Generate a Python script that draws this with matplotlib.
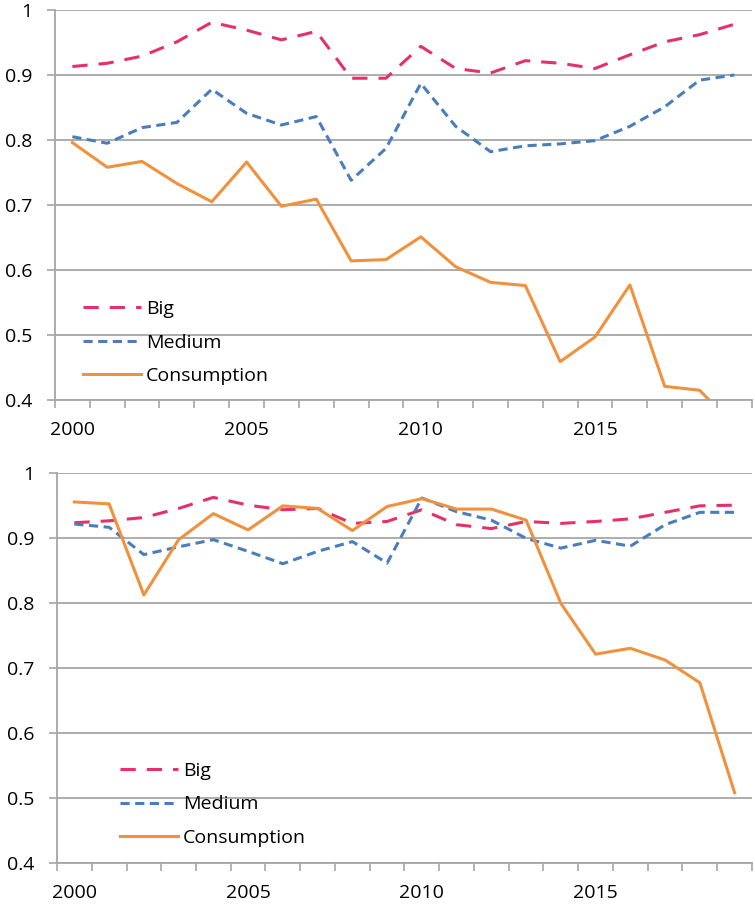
import matplotlib
matplotlib.use("Agg")
import matplotlib.pyplot as plt
from matplotlib.ticker import FixedLocator, FixedFormatter

# years on the category axis
years = list(range(2000, 2020))
year_labels = ["2000", "2005", "2010", "2015"]
y_ticks = [0.4, 0.5, 0.6, 0.7, 0.8, 0.9, 1.0]
y_labels = ["0.4", "0.5", "0.6", "0.7", "0.8", "0.9", "1"]

# top panel
big_top = [0.913, 0.918, 0.929, 0.951, 0.981, 0.969, 0.954, 0.967, 0.895, 0.895,
           0.944, 0.910, 0.903, 0.922, 0.918, 0.910, 0.931, 0.951, 0.962, 0.978]
medium_top = [0.805, 0.795, 0.819, 0.827, 0.878, 0.841, 0.823, 0.836, 0.738, 0.787,
              0.887, 0.821, 0.782, 0.791, 0.794, 0.799, 0.821, 0.851, 0.892, 0.900]
cons_top = [0.796, 0.758, 0.767, 0.733, 0.705, 0.766, 0.698, 0.709, 0.614, 0.616,
            0.651, 0.605, 0.581, 0.576, 0.459, 0.497, 0.577, 0.421, 0.415, 0.36]

# bottom panel
big_bot = [0.923, 0.926, 0.931, 0.945, 0.962, 0.950, 0.943, 0.945, 0.922, 0.925,
           0.943, 0.920, 0.914, 0.925, 0.922, 0.925, 0.929, 0.939, 0.949, 0.950]
medium_bot = [0.921, 0.916, 0.874, 0.886, 0.897, 0.879, 0.860, 0.879, 0.894, 0.861,
              0.961, 0.940, 0.927, 0.899, 0.884, 0.896, 0.887, 0.920, 0.939, 0.939]
cons_bot = [0.955, 0.952, 0.812, 0.897, 0.937, 0.912, 0.949, 0.945, 0.911, 0.948,
            0.960, 0.944, 0.944, 0.927, 0.799, 0.721, 0.730, 0.712, 0.677, 0.508]

series_names = ["Big", "Medium", "Consumption"]
colors = ["#e6306b", "#4a7ebb", "#f0913d"]
grid_col = "#a6a6a6"

plt.rcParams["font.family"] = ["Open Sans", "DejaVu Sans"]

fig = plt.figure(figsize=(7.55, 9.06), dpi=100)
ax1 = fig.add_axes([0.0728, 0.5585, 0.923, 0.4305])
ax2 = fig.add_axes([0.0755, 0.0475, 0.9205, 0.4308])


def draw_panel(ax, big, med, cons, leg_x, leg_y):
    ax.plot(years, big, color=colors[0], lw=2.2, dashes=(5, 3.6), label=series_names[0])
    ax.plot(years, med, color=colors[1], lw=2.2, dashes=(3.0, 1.8), label=series_names[1])
    ax.plot(years, cons, color=colors[2], lw=2.2, label=series_names[2])

    ax.set_xlim(1999.5, 2019.5)
    ax.set_ylim(0.4, 1.0)
    ax.set_yticks(y_ticks)
    ax.set_yticklabels(y_labels)
    ax.xaxis.set_major_locator(FixedLocator([2000, 2005, 2010, 2015]))
    ax.xaxis.set_major_formatter(FixedFormatter(year_labels))
    ax.xaxis.set_minor_locator(FixedLocator([y - 0.5 for y in years] + [2019.5]))
    ax.tick_params(axis="x", which="major", length=0, pad=15, labelsize=14)
    ax.tick_params(axis="x", which="minor", length=6, width=1.2, color=grid_col)
    ax.tick_params(axis="y", length=6, width=1.2, color=grid_col, pad=10, labelsize=14)

    ax.grid(axis="y", color=grid_col, lw=1.3)
    ax.set_axisbelow(True)
    for s in ["top", "right"]:
        ax.spines[s].set_visible(False)
    for s in ["left", "bottom"]:
        ax.spines[s].set_color(grid_col)
        ax.spines[s].set_linewidth(1.3)

    ax.legend(loc="upper left", bbox_to_anchor=(leg_x, leg_y), frameon=False,
              fontsize=14, handlelength=3.0, handletextpad=0.25,
              labelspacing=0.8, borderpad=0, borderaxespad=0)


draw_panel(ax1, big_top, medium_top, cons_top, 0.040, 0.256)
draw_panel(ax2, big_bot, medium_bot, cons_bot, 0.0906, 0.259)

fig.savefig("out.png", dpi=100)
